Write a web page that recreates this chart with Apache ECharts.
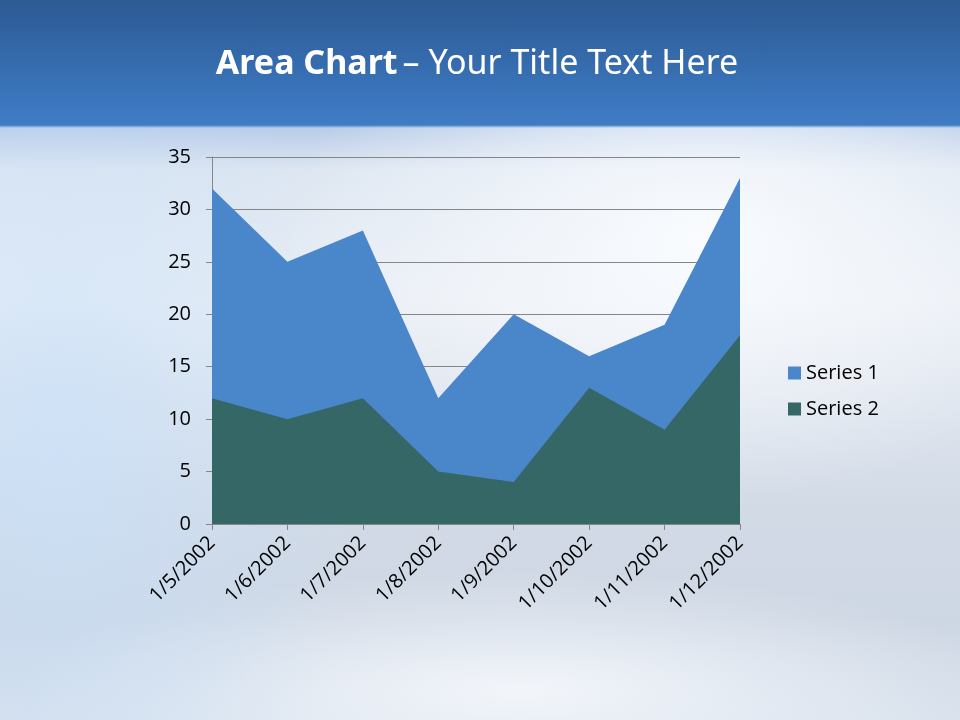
<!DOCTYPE html>
<html>
<head>
<meta charset="utf-8">
<script src="https://cdn.jsdelivr.net/npm/echarts@6/dist/echarts.min.js"></script>
<style>
html,body{margin:0;padding:0;width:960px;height:720px;overflow:hidden;}
#bg{position:absolute;left:0;top:0;width:960px;height:720px;
background:
 linear-gradient(to bottom,#2c5a93 0px,#3b76bd 100px,#3f7cc4 125px,rgba(63,124,196,0) 128px),
 radial-gradient(ellipse 420px 260px at 700px 240px,rgba(250,252,255,0.95),rgba(250,252,255,0) 100%),
 radial-gradient(ellipse 300px 500px at 60px 450px,rgba(200,225,250,0.7),rgba(200,225,250,0) 100%),
 radial-gradient(ellipse 500px 120px at 520px 690px,rgba(245,248,252,0.9),rgba(245,248,252,0) 100%),
 linear-gradient(to bottom,#b9cce8 128px,#dde6f1 170px,#e9eef5 300px,#d3dbe7 500px,#cdd6e3 620px,#d7e0ec 720px);
}
#main{position:absolute;left:0;top:0;width:960px;height:720px;}
</style>
</head>
<body>
<div id="bg"></div>
<div id="main"></div>
<script>
var categories = ['1/5/2002','1/6/2002','1/7/2002','1/8/2002','1/9/2002','1/10/2002','1/11/2002','1/12/2002'];
var series1 = [32, 25, 28, 12, 20, 16, 19, 33];
var series2 = [12, 10, 12, 5, 4, 13, 9, 18];
var seriesNames = ['Series 1','Series 2'];
var yTicks = {min:0, max:35, interval:5};

var chart = echarts.init(document.getElementById('main'), null, {renderer:'canvas'});
var font = 'Open Sans, Noto Sans, sans-serif';
chart.setOption({
  backgroundColor:'transparent',
  animation:false,
  title:{
    text:'{b|Area Chart} {r|– Your Title Text Here}',
    left:472, top:42, textAlign:'center',
    textStyle:{
      rich:{
        b:{fontFamily:'Noto Sans',fontWeight:'bold',fontSize:34,color:'#ffffff'},
        r:{fontFamily:'Noto Sans',fontWeight:'normal',fontSize:34,color:'#ffffff'}
      }
    }
  },
  grid:{left:212,right:220,top:157,bottom:196,containLabel:false},
  legend:{
    orient:'vertical', left:783, top:358,
    icon:'rect', itemWidth:13, itemHeight:13, itemGap:16,
    textStyle:{fontFamily:font,fontSize:20,color:'#000'},
    data:seriesNames
  },
  xAxis:{
    type:'category', data:categories, boundaryGap:false,
    axisLine:{lineStyle:{color:'#868686',width:1}},
    axisTick:{show:true,length:6,lineStyle:{color:'#868686'}},
    axisLabel:{rotate:45,fontFamily:font,fontSize:20,color:'#000',margin:16,interval:0},
    splitLine:{show:false}
  },
  yAxis:{
    type:'value', min:yTicks.min, max:yTicks.max, interval:yTicks.interval,
    axisLine:{show:true,lineStyle:{color:'#868686',width:1}},
    axisTick:{show:true,length:6,lineStyle:{color:'#868686'}},
    axisLabel:{fontFamily:font,fontSize:20,color:'#000',margin:21},
    splitLine:{show:true,lineStyle:{color:'#868686',width:1}}
  },
  series:[
    {name:seriesNames[0],type:'line',data:series1,showSymbol:false,
     lineStyle:{width:0},itemStyle:{color:'#4a86ca'},areaStyle:{color:'#4a86ca',opacity:1}},
    {name:seriesNames[1],type:'line',data:series2,showSymbol:false,
     lineStyle:{width:0},itemStyle:{color:'#356767'},areaStyle:{color:'#356767',opacity:1}}
  ]
});
</script>
</body>
</html>
